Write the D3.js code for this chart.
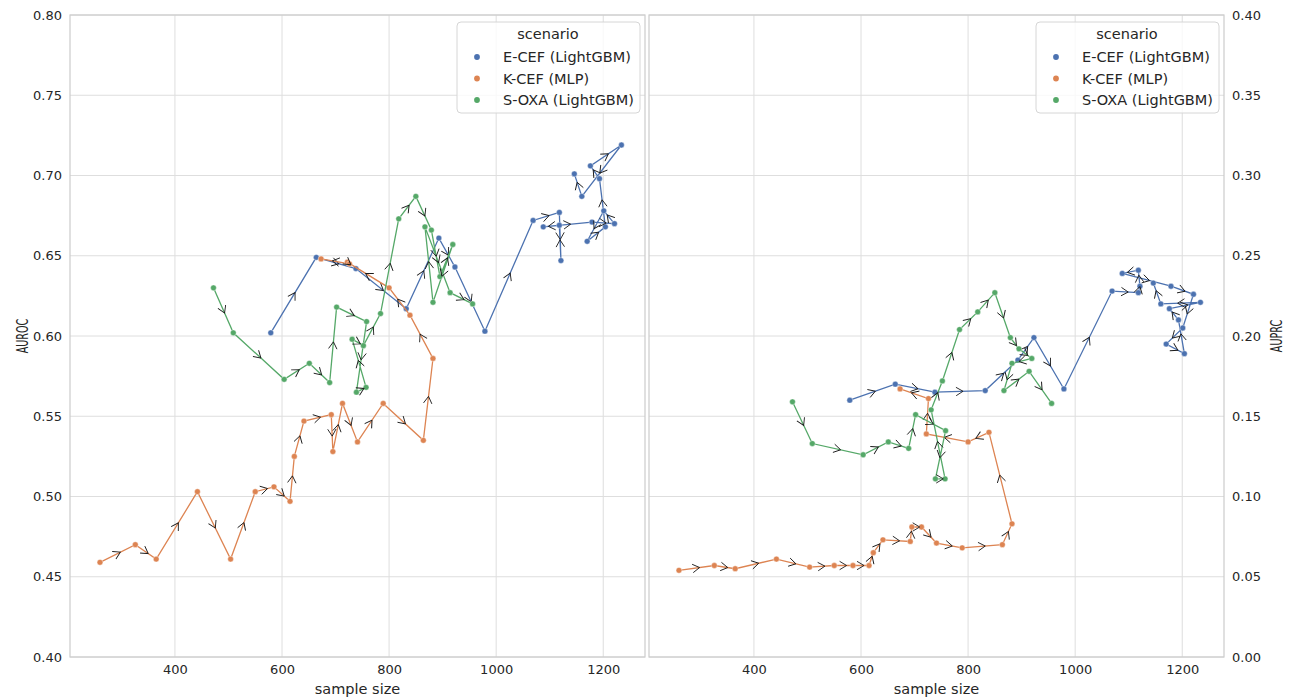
<!DOCTYPE html>
<html>
<head>
<meta charset="utf-8">
<script src="https://cdn.jsdelivr.net/npm/d3@7"></script>
<style>
  body { margin: 0; background: #fff; }
  text { font-family: "DejaVu Sans", sans-serif; fill: #262626; }
</style>
</head>
<body>
<div id="chart"></div>
<script>
const WIDTH = 1296
const HEIGHT = 700
const PANEL_W = 575
const TOP = 15, BOTTOM = 657

const SCENARIOS = ["E-CEF (LightGBM)", "K-CEF (MLP)", "S-OXA (LightGBM)"]
const COLORS = ["#4c72b0", "#dd8452", "#55a868"]

const X_TICKS = [400, 600, 800, 1000, 1200]
const AUROC_TICKS = [0.40, 0.45, 0.50, 0.55, 0.60, 0.65, 0.70, 0.75, 0.80]
const AUPRC_TICKS = [0.00, 0.05, 0.10, 0.15, 0.20, 0.25, 0.30, 0.35, 0.40]

// E-CEF (LightGBM)
const ecef_n = [579, 664, 738, 832, 893, 923, 979, 1069, 1118, 1121, 1118, 1088, 1179, 1221, 1201, 1170, 1204, 1193, 1176, 1234, 1160, 1146]
const ecef_auroc = [0.602, 0.649, 0.642, 0.617, 0.661, 0.643, 0.603, 0.672, 0.677, 0.647, 0.669, 0.668, 0.671, 0.670, 0.678, 0.659, 0.668, 0.698, 0.706, 0.719, 0.687, 0.701]
const ecef_auprc = [0.160, 0.170, 0.165, 0.166, 0.185, 0.199, 0.167, 0.228, 0.227, 0.231, 0.241, 0.239, 0.231, 0.226, 0.205, 0.195, 0.189, 0.210, 0.217, 0.221, 0.220, 0.233]

// K-CEF (MLP)
const kcef_n = [260, 326, 365, 442, 504, 550, 585, 615, 623, 641, 692, 695, 713, 741, 789, 864, 882, 839, 800, 722, 726, 673]
const kcef_auroc = [0.459, 0.470, 0.461, 0.503, 0.461, 0.503, 0.506, 0.497, 0.525, 0.547, 0.551, 0.528, 0.558, 0.534, 0.558, 0.535, 0.586, 0.613, 0.630, 0.646, 0.645, 0.648]
const kcef_auprc = [0.054, 0.057, 0.055, 0.061, 0.056, 0.057, 0.057, 0.057, 0.065, 0.073, 0.072, 0.081, 0.081, 0.071, 0.068, 0.070, 0.083, 0.140, 0.134, 0.139, 0.161, 0.167]

// S-OXA (LightGBM)
const soxa_n = [472, 509, 604, 651, 689, 702, 758, 739, 757, 731, 752, 784, 818, 850, 879, 895, 919, 882, 867, 914, 956]
const soxa_auroc = [0.630, 0.602, 0.573, 0.583, 0.571, 0.618, 0.609, 0.565, 0.568, 0.598, 0.594, 0.614, 0.673, 0.687, 0.666, 0.637, 0.657, 0.621, 0.668, 0.627, 0.620]
const soxa_auprc = [0.159, 0.133, 0.126, 0.134, 0.130, 0.151, 0.141, 0.111, 0.111, 0.154, 0.172, 0.204, 0.215, 0.227, 0.199, 0.192, 0.186, 0.183, 0.166, 0.178, 0.158]

const series = [
    { name: SCENARIOS[0], color: COLORS[0], n: ecef_n, auroc: ecef_auroc, auprc: ecef_auprc },
    { name: SCENARIOS[1], color: COLORS[1], n: kcef_n, auroc: kcef_auroc, auprc: kcef_auprc },
    { name: SCENARIOS[2], color: COLORS[2], n: soxa_n, auroc: soxa_auroc, auprc: soxa_auprc },
]

const panels = [
    { x0: 70, key: "auroc", label: "AUROC", domain: [0.40, 0.80], ticks: AUROC_TICKS, side: "left" },
    { x0: 649, key: "auprc", label: "AUPRC", domain: [0.00, 0.40], ticks: AUPRC_TICKS, side: "right" },
]

const svg = d3.select("#chart")
    .append("svg")
    .attr("width", WIDTH)
    .attr("height", HEIGHT)

panels.forEach(p => draw_panel(p))

function draw_panel(p) {
    const x = d3.scaleLinear().domain([204, 1278]).range([p.x0, p.x0 + PANEL_W])
    const y = d3.scaleLinear().domain(p.domain).range([BOTTOM, TOP])
    const g = svg.append("g")

    // grid
    g.selectAll(".vgrid").data(X_TICKS).enter().append("line")
        .attr("x1", d => x(d)).attr("x2", d => x(d))
        .attr("y1", TOP).attr("y2", BOTTOM)
        .attr("stroke", "#dedede").attr("stroke-width", 1)
    g.selectAll(".hgrid").data(p.ticks).enter().append("line")
        .attr("x1", p.x0).attr("x2", p.x0 + PANEL_W)
        .attr("y1", d => y(d)).attr("y2", d => y(d))
        .attr("stroke", "#dedede").attr("stroke-width", 1)

    g.append("rect")
        .attr("x", p.x0).attr("y", TOP)
        .attr("width", PANEL_W).attr("height", BOTTOM - TOP)
        .attr("fill", "none").attr("stroke", "#cccccc").attr("stroke-width", 1.2)

    // axes (no tick marks, seaborn whitegrid)
    const xAxis = g.append("g")
        .attr("transform", `translate(0,${BOTTOM})`)
        .call(d3.axisBottom(x).tickValues(X_TICKS).tickSize(0).tickPadding(8).tickFormat(d3.format("d")))
    const yAxis = g.append("g")
        .attr("transform", `translate(${p.side == "left" ? p.x0 : p.x0 + PANEL_W},0)`)
        .call((p.side == "left" ? d3.axisLeft(y) : d3.axisRight(y))
            .tickValues(p.ticks).tickSize(0).tickPadding(8).tickFormat(d3.format(".2f")))
    ;[xAxis, yAxis].forEach(a => {
        a.select(".domain").remove()
        a.selectAll("text").attr("font-size", 13).attr("fill", "#262626")
            .style("font-family", '"DejaVu Sans", sans-serif')
    })

    g.append("text")
        .attr("x", p.x0 + PANEL_W / 2).attr("y", 694)
        .attr("text-anchor", "middle").attr("font-size", 14.5)
        .text("sample size")
    const lx = p.side == "left" ? 22 : 1276
    g.append("text")
        .attr("transform", `translate(${lx},${(TOP + BOTTOM) / 2}) rotate(-90) scale(0.6,1)`)
        .attr("text-anchor", "middle").attr("dy", "0.36em").attr("font-size", 16)
        .text(p.label)

    // trajectories
    series.forEach(s => {
        const pts = s.n.map((n, i) => [x(n), y(s[p.key][i])])
        g.append("path")
            .attr("d", d3.line()(pts))
            .attr("fill", "none").attr("stroke", s.color).attr("stroke-width", 1.3)
        g.selectAll(null).data(pts).enter().append("circle")
            .attr("cx", d => d[0]).attr("cy", d => d[1]).attr("r", 2.9)
            .attr("fill", s.color).attr("stroke", "#fff").attr("stroke-width", 0.4)
        // arrow heads at segment midpoints
        const segs = d3.pairs(pts)
        g.selectAll(null).data(segs).enter().append("path")
            .attr("d", "M-7,-4.2L0,0L-7,4.2")
            .attr("transform", d => {
                const mx = (d[0][0] + d[1][0]) / 2, my = (d[0][1] + d[1][1]) / 2
                const a = Math.atan2(d[1][1] - d[0][1], d[1][0] - d[0][0])
                return `translate(${mx + 3 * Math.cos(a)},${my + 3 * Math.sin(a)}) rotate(${a * 180 / Math.PI})`
            })
            .attr("fill", "none").attr("stroke", "#1a1a1a").attr("stroke-width", 0.9)
    })

    // legend
    const lg = g.append("g").attr("transform", `translate(${p.x0 + PANEL_W - 188},22)`)
    lg.append("rect")
        .attr("width", 183).attr("height", 91).attr("rx", 4)
        .attr("fill", "#fff").attr("fill-opacity", 0.8)
        .attr("stroke", "#d6d6d6").attr("stroke-width", 1)
    lg.append("text").attr("x", 91).attr("y", 17).attr("text-anchor", "middle")
        .attr("font-size", 14.5).text("scenario")
    series.forEach((s, i) => {
        lg.append("circle").attr("cx", 20).attr("cy", 35 + i * 21.5).attr("r", 2.9).attr("fill", s.color)
        lg.append("text").attr("x", 46).attr("y", 35 + i * 21.5).attr("dy", "0.35em")
            .attr("font-size", 14.5).text(s.name)
    })
}
</script>
</body>
</html>
